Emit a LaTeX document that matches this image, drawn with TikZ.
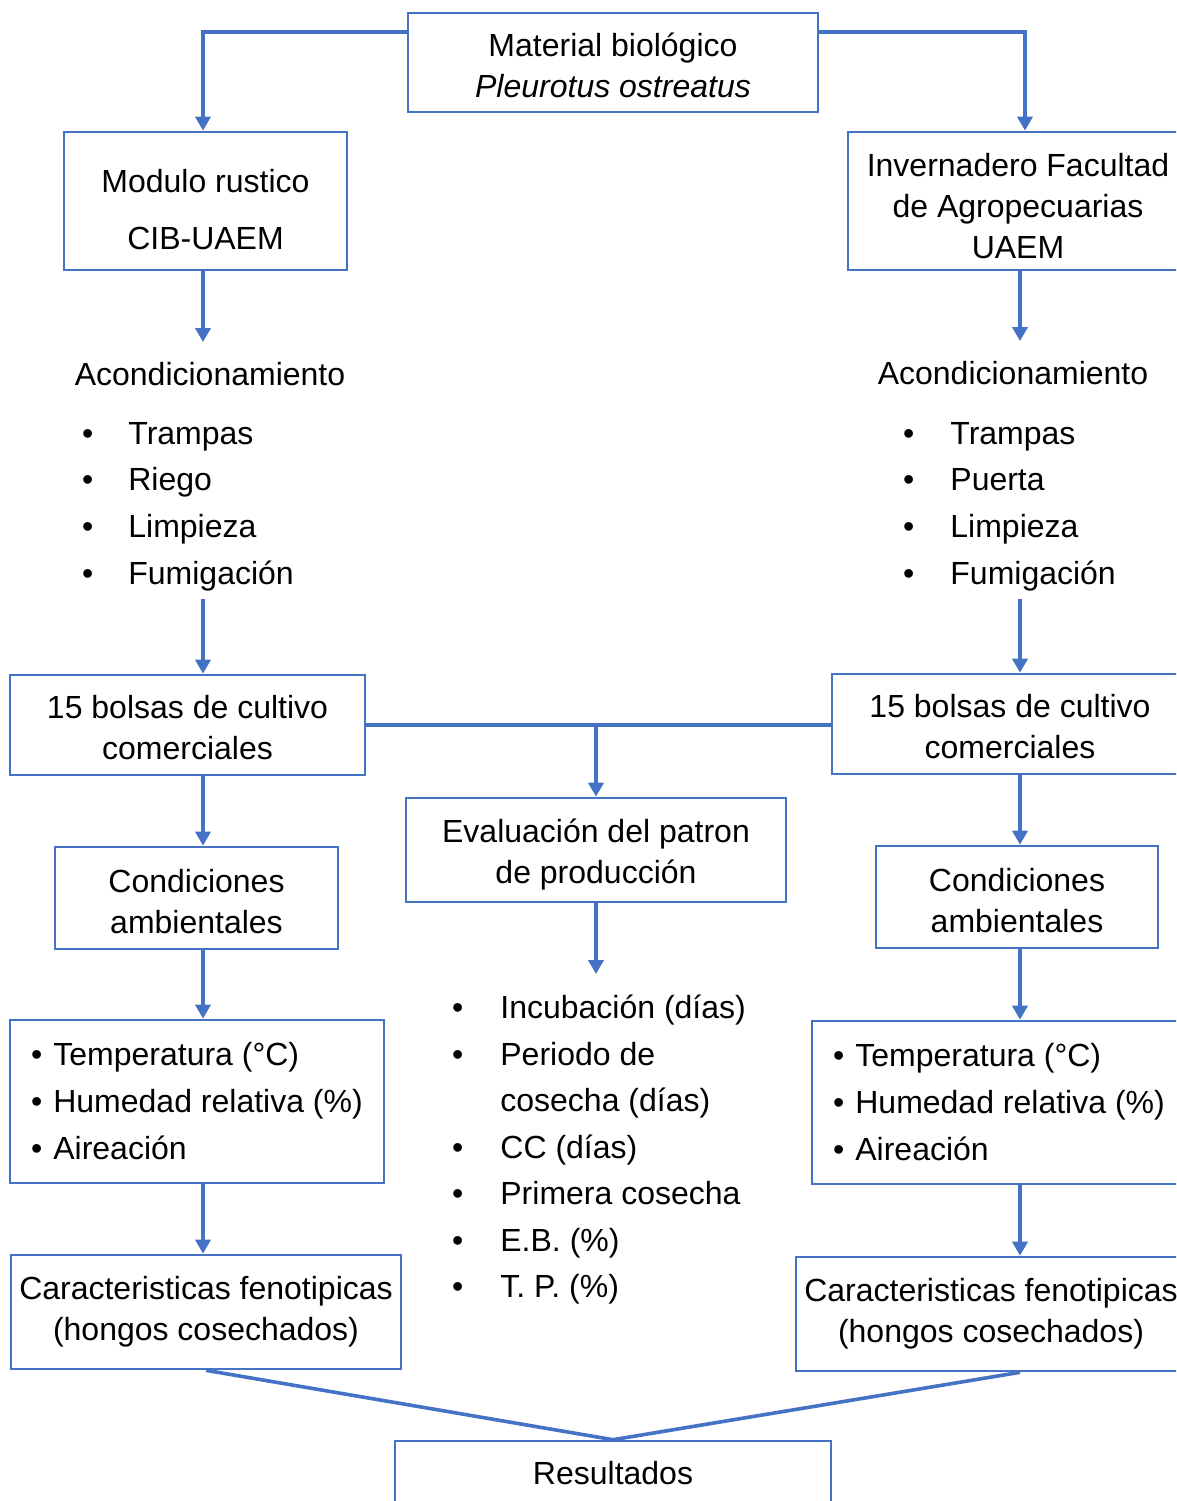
\documentclass[tikz,border=0pt]{standalone}
\usepackage{fontspec}
\setmainfont{Liberation Sans}
\usetikzlibrary{arrows.meta}
\definecolor{boxblue}{HTML}{4472C4}
\newcommand{\lift}[1]{\rule{0pt}{#1}}

\begin{document}
\begin{tikzpicture}[
    x=1pt, y=-1pt,
    font=\fontsize{32}{41}\selectfont,
    block/.style={draw=boxblue, line width=2.6pt, align=center, inner sep=0pt},
    plain/.style={inner sep=0pt},
    list/.style={inner sep=0pt, anchor=west, font=\fontsize{32}{46.7}\selectfont},
    arrow/.style={draw=boxblue, line width=3.6pt, -{Triangle[width=15pt,length=14pt]}},
    line/.style={draw=boxblue, line width=3.6pt}
]
    \clip (0,0) rectangle (1176,1501);
    \coordinate (colL) at (203,0);
    \coordinate (colR) at (1020,0);

    \node (mat) [block, minimum width=410pt, minimum height=99pt] at (613,62.5) {\lift{30pt}Material biológico\\ \textit{Pleurotus ostreatus}};

    \node (modL) [block, minimum width=283pt, minimum height=138pt] at (205.5,201) {\lift{39.5pt}Modulo rustico\\[16pt] CIB-UAEM};
    \node (invR) [block, minimum width=340pt, minimum height=138pt] at (1018,201) {\lift{33.5pt}Invernadero Facultad\\ de Agropecuarias\\ UAEM};

    \node (acondL) [plain] at (210,374) {Acondicionamiento};
    \node (acondR) [plain] at (1013,373) {Acondicionamiento};

    \node (listL) [list] at (82,505) {\begin{tabular}{@{}c@{\hspace{35pt}}l@{}}
        \textbullet & Trampas\\
        \textbullet & Riego\\
        \textbullet & Limpieza\\
        \textbullet & Fumigación
    \end{tabular}};
    \node (listR) [list] at (903,505) {\begin{tabular}{@{}c@{\hspace{36pt}}l@{}}
        \textbullet & Trampas\\
        \textbullet & Puerta\\
        \textbullet & Limpieza\\
        \textbullet & Fumigación
    \end{tabular}};

    \node (bolL) [block, minimum width=355pt, minimum height=100pt] at (187.5,725) {\lift{29pt}15 bolsas de cultivo\\ comerciales};
    \node (bolR) [block, minimum width=356pt, minimum height=100pt] at (1010,724) {\lift{29pt}15 bolsas de cultivo\\ comerciales};

    \node (evalC) [block, minimum width=380pt, minimum height=104pt] at (596,850) {\lift{32pt}Evaluación del patron\\ de producción};

    \node (condL) [block, minimum width=283pt, minimum height=102pt] at (196.5,898) {\lift{29.5pt}Condiciones\\ ambientales};
    \node (condR) [block, minimum width=282pt, minimum height=102pt] at (1017,897) {\lift{29.5pt}Condiciones\\ ambientales};

    \node (listC) [list, font=\fontsize{32}{46.5}\selectfont] at (452,1149) {\begin{tabular}{@{}c@{\hspace{37pt}}l@{}}
        \textbullet & Incubación (días)\\
        \textbullet & Periodo de\\
                    & cosecha (días)\\
        \textbullet & CC (días)\\
        \textbullet & Primera cosecha\\
        \textbullet & E.B. (\%)\\
        \textbullet & T. P. (\%)
    \end{tabular}};

    \node (envL) [block, align=left, minimum width=374pt, minimum height=163pt, font=\fontsize{32}{47}\selectfont] at (197,1101.5) {\textbullet\hspace{11pt}Temperatura (°C)\\ \textbullet\hspace{11pt}Humedad relativa (\%)\\ \textbullet\hspace{11pt}Aireación};
    \node (envR) [block, align=left, minimum width=374pt, minimum height=163pt, font=\fontsize{32}{47}\selectfont] at (999,1102.5) {\textbullet\hspace{11pt}Temperatura (°C)\\ \textbullet\hspace{11pt}Humedad relativa (\%)\\ \textbullet\hspace{11pt}Aireación};

    \node (carL) [block, minimum width=390pt, minimum height=114pt] at (206,1312) {Caracteristicas fenotipicas\\ (hongos cosechados)};
    \node (carR) [block, minimum width=390pt, minimum height=114pt] at (991,1314) {Caracteristicas fenotipicas\\ (hongos cosechados)};

    \node (res) [block, minimum width=436pt, minimum height=64pt] at (613,1473) {Resultados};

    \draw [arrow] ([yshift=30.5pt]mat.west) -| (modL.north -| colL);
    \draw [arrow] ([yshift=30.5pt]mat.east) -| ([xshift=7pt]invR.north);

    \draw [arrow, shorten >=20pt] (modL.south -| colL) -- (acondL.north -| colL);
    \draw [arrow, shorten >=20pt] (invR.south -| colR) -- (acondR.north -| colR);
    \draw [arrow] (listL.south -| colL) -- (bolL.north -| colL);
    \draw [arrow] (listR.south -| colR) -- (bolR.north -| colR);

    \draw [line] (bolL.east) -- (bolL.east -| bolR.west);
    \draw [arrow] (bolL.east -| evalC.north) -- (evalC.north);
    \draw [arrow, shorten >=12pt] (evalC.south) -- (listC.north -| evalC.south);

    \draw [arrow] (bolL.south -| colL) -- (condL.north -| colL);
    \draw [arrow] (bolR.south -| colR) -- (condR.north -| colR);
    \draw [arrow] (condL.south -| colL) -- (envL.north -| colL);
    \draw [arrow] (condR.south -| colR) -- (envR.north -| colR);
    \draw [arrow] (envL.south -| colL) -- (carL.north -| colL);
    \draw [arrow] (envR.south -| colR) -- (carR.north -| colR);

    \draw [line] (carL.south) -- (res.north);
    \draw [line] (carR.south -| colR) -- (res.north);
\end{tikzpicture}
\end{document}
